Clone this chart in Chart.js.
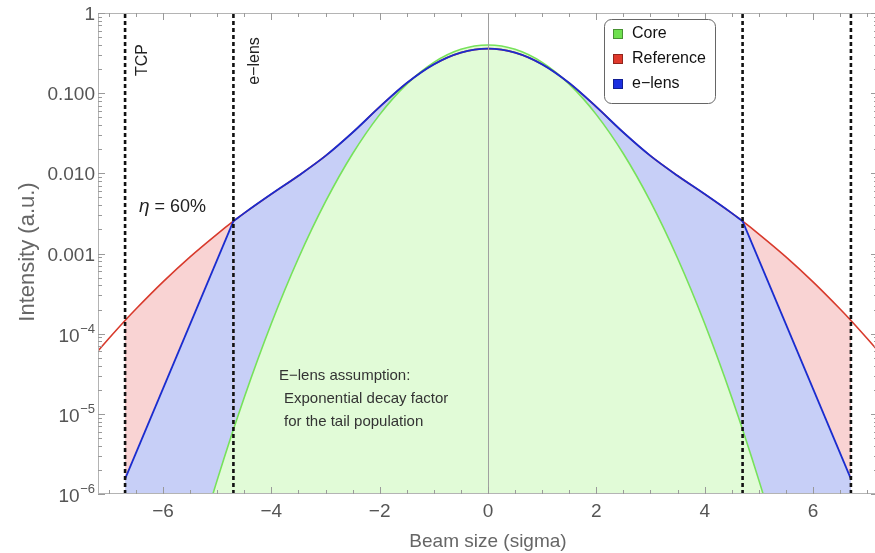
<!DOCTYPE html>
<html>
<head>
<meta charset="utf-8">
<script src="https://cdn.jsdelivr.net/npm/chart.js@4.4.1/dist/chart.umd.min.js"></script>
<style>
  html, body { margin: 0; padding: 0; background: #fff; width: 875px; height: 553px; overflow: hidden; }
  #wrap { width: 880px; height: 553px; }
</style>
</head>
<body>
<div id="wrap"><canvas id="chart" width="880" height="553"></canvas></div>
<script>
// reference distribution (red)
const refX = [-7.2, -7, -6.7, -6.5, -6, -5.5, -5, -4.7, -4.5, -4, -3.5, -3, -2.5, -2, -1.5, -1, -0.5, 0,
              0.5, 1, 1.5, 2, 2.5, 3, 3.5, 4, 4.5, 4.7, 5, 5.5, 6, 6.5, 6.7, 7, 7.2];
const refY = [6.1e-5, 8.7e-5, 1.46e-4, 2.03e-4, 4.43e-4, 9.09e-4, 1.75e-3, 2.53e-3, 3.19e-3, 5.51e-3, 9.33e-3, 0.0165, 0.0323, 0.0674, 0.1337, 0.2288, 0.3203, 0.3591,
              0.3203, 0.2288, 0.1337, 0.0674, 0.0323, 0.0165, 9.33e-3, 5.51e-3, 3.19e-3, 2.53e-3, 1.75e-3, 9.09e-4, 4.43e-4, 2.03e-4, 1.46e-4, 8.7e-5, 6.1e-5];

// core gaussian (green)
const coreX = [-5.5, -5, -4.5, -4, -3.5, -3, -2.5, -2, -1.5, -1, -0.5, 0, 0.5, 1, 1.5, 2, 2.5, 3, 3.5, 4, 4.5, 5, 5.5];
const coreY = [1.08e-7, 1.49e-6, 1.6e-5, 1.34e-4, 8.73e-4, 4.43e-3, 0.01753, 0.054, 0.1295, 0.242, 0.3521, 0.3989,
               0.3521, 0.242, 0.1295, 0.054, 0.01753, 4.43e-3, 8.73e-4, 1.34e-4, 1.6e-5, 1.49e-6, 1.08e-7];

// e-lens tails (blue), exponential decay between e-lens and TCP
const tailLX = [-6.7, -4.7];
const tailLY = [1.54e-6, 2.53e-3];
const tailRX = [4.7, 6.7];
const tailRY = [2.53e-3, 1.54e-6];

// vertical cuts: TCP and e-lens positions
const cutX = [-6.7, -4.7, 4.7, 6.7];
const cutY = [1e-6, 1];

const xTicks = [-6, -4, -2, 0, 2, 4, 6];
const yTicks = [1e-6, 1e-5, 1e-4, 1e-3, 1e-2, 1e-1, 1];
const yLabels = [['10', '\u22126'], ['10', '\u22125'], ['10', '\u22124'], ['0.001'], ['0.010'], ['0.100'], ['1']];

const legendNames = ['Core', 'Reference', 'e\u2212lens'];
const legendColors = ['#6fe04f', '#e0392c', '#1b2fe0'];

const pts = (xs, ys) => xs.map((x, i) => ({ x: x, y: ys[i] }));
const between = (xs, ys, lo, hi) => pts(xs, ys).filter(p => p.x >= lo - 1e-9 && p.x <= hi + 1e-9);

const FONT = 'Liberation Sans, Arial, sans-serif';

const datasets = [
  // fills (bottom layers)
  { data: between(refX, refY, -6.7, 6.7), borderWidth: 0, pointRadius: 0, fill: 'start',
    backgroundColor: '#f9d3d3', cubicInterpolationMode: 'monotone', order: 20 },
  { data: pts(tailLX, tailLY), borderWidth: 0, pointRadius: 0, fill: 'start', backgroundColor: '#c7cff7', tension: 0, order: 19 },
  { data: pts(tailRX, tailRY), borderWidth: 0, pointRadius: 0, fill: 'start', backgroundColor: '#c7cff7', tension: 0, order: 19 },
  { data: between(refX, refY, -4.7, 4.7), borderWidth: 0, pointRadius: 0, fill: 'start',
    backgroundColor: '#c7cff7', cubicInterpolationMode: 'monotone', order: 19 },
  { data: pts(coreX, coreY), borderWidth: 1.6, borderColor: '#77e25a', pointRadius: 0, fill: 'start',
    backgroundColor: '#e1fbd7', cubicInterpolationMode: 'monotone', order: 18 },
  // lines
  { data: pts(refX, refY), borderWidth: 1.6, borderColor: '#d83a2c', pointRadius: 0, fill: false,
    cubicInterpolationMode: 'monotone', order: 10 },
  { data: between(refX, refY, -4.7, 4.7), borderWidth: 1.8, borderColor: '#1a2ccf', pointRadius: 0, fill: false,
    cubicInterpolationMode: 'monotone', order: 9 },
  { data: pts(tailLX, tailLY), borderWidth: 1.8, borderColor: '#1a2ccf', pointRadius: 0, fill: false, tension: 0, order: 9 },
  { data: pts(tailRX, tailRY), borderWidth: 1.8, borderColor: '#1a2ccf', pointRadius: 0, fill: false, tension: 0, order: 9 }
];

cutX.forEach(cx => {
  datasets.push({ data: cutY.map(v => ({ x: cx, y: v })), borderWidth: 2.6, borderColor: '#111',
    borderDash: [4, 3], pointRadius: 0, fill: false, tension: 0, order: 1 });
});

const decorPlugin = {
  id: 'decor',
  afterDatasetsDraw(chart) {
    const { ctx, chartArea: a, scales: { x, y } } = chart;
    ctx.save();
    // vertical axis line at x = 0
    const zx = Math.round(x.getPixelForValue(0)) + 0.5;
    ctx.strokeStyle = '#a0a0a0';
    ctx.lineWidth = 1;
    ctx.beginPath();
    ctx.moveTo(zx, a.top); ctx.lineTo(zx, a.bottom);
    ctx.stroke();
    // frame
    ctx.strokeStyle = '#b4b4b4';
    ctx.strokeRect(a.left + 0.5, a.top + 0.5, a.right - a.left - 1, a.bottom - a.top - 1);
    // ticks
    ctx.strokeStyle = '#9a9a9a';
    ctx.beginPath();
    for (let v = -7; v <= 7.001; v += 0.5) {
      const px = Math.round(x.getPixelForValue(v)) + 0.5;
      const len = (Math.abs(v) % 2 === 0) ? 7 : 4;
      ctx.moveTo(px, a.bottom); ctx.lineTo(px, a.bottom - len);
      ctx.moveTo(px, a.top); ctx.lineTo(px, a.top + len);
    }
    for (let e = -6; e <= 0; e++) {
      for (let m = 1; m <= 9; m++) {
        const v = m * Math.pow(10, e);
        if (v > 1) break;
        const py = Math.round(y.getPixelForValue(v)) + 0.5;
        const len = m === 1 ? 7 : 4;
        ctx.moveTo(a.left, py); ctx.lineTo(a.left + len, py);
        ctx.moveTo(a.right, py); ctx.lineTo(a.right - len, py);
      }
    }
    ctx.stroke();
    ctx.restore();
  },
  afterDraw(chart) {
    const { ctx, chartArea: a, scales: { x, y } } = chart;
    ctx.save();
    // y tick labels
    ctx.fillStyle = '#555';
    ctx.textAlign = 'right';
    ctx.textBaseline = 'alphabetic';
    yTicks.forEach((v, i) => {
      const py = y.getPixelForValue(v);
      const lab = yLabels[i];
      const right = a.left - 3;
      if (lab.length === 1) {
        ctx.font = '19px ' + FONT;
        ctx.fillText(lab[0], right, py + 7);
      } else {
        ctx.font = '13px ' + FONT;
        const w = ctx.measureText(lab[1]).width;
        ctx.fillText(lab[1], right, py - 1);
        ctx.font = '19px ' + FONT;
        ctx.fillText(lab[0], right - w - 0.5, py + 8);
      }
    });
    // axis titles
    ctx.fillStyle = '#666';
    ctx.font = '19px ' + FONT;
    ctx.textAlign = 'center';
    ctx.textBaseline = 'middle';
    ctx.fillText('Beam size (sigma)', x.getPixelForValue(0), 542);
    ctx.save();
    ctx.font = '22px ' + FONT;
    ctx.translate(28, 252);
    ctx.rotate(-Math.PI / 2);
    ctx.fillText('Intensity (a.u.)', 0, 0);
    ctx.restore();

    // rotated labels for the cuts
    ctx.fillStyle = '#222';
    ctx.font = '16px ' + FONT;
    ctx.save();
    ctx.translate(143, 60); ctx.rotate(-Math.PI / 2);
    ctx.fillText('TCP', 0, 0);
    ctx.restore();
    ctx.save();
    ctx.translate(255, 61); ctx.rotate(-Math.PI / 2);
    ctx.fillText('e\u2212lens', 0, 0);
    ctx.restore();

    // eta label
    ctx.textAlign = 'left';
    ctx.font = 'italic 19px ' + FONT;
    ctx.fillText('\u03b7', 139, 207);
    const ew = ctx.measureText('\u03b7').width;
    ctx.font = '18px ' + FONT;
    ctx.fillText(' = 60%', 139 + ew, 207);

    // assumption text
    ctx.fillStyle = '#333';
    ctx.font = '15px ' + FONT;
    ctx.fillText('E\u2212lens assumption:', 279, 376);
    ctx.fillText('Exponential decay factor', 284, 399);
    ctx.fillText('for the tail population', 284, 422);

    // legend box
    const lx = 604, ly = 19, lw = 111, lh = 84;
    ctx.fillStyle = '#fff';
    ctx.strokeStyle = '#666';
    ctx.lineWidth = 1;
    ctx.beginPath();
    ctx.roundRect(lx + 0.5, ly + 0.5, lw, lh, 7);
    ctx.fill();
    ctx.stroke();
    legendNames.forEach((n, i) => {
      const cy = 34 + i * 25;
      ctx.fillStyle = legendColors[i];
      ctx.fillRect(613, cy - 5, 10, 10);
      ctx.strokeStyle = 'rgba(0,0,0,0.35)';
      ctx.strokeRect(613.5, cy - 4.5, 9, 9);
      ctx.fillStyle = '#111';
      ctx.font = '16px ' + FONT;
      ctx.textBaseline = 'middle';
      ctx.fillText(n, 632, cy);
    });
    ctx.restore();
  }
};

new Chart(document.getElementById('chart'), {
  type: 'line',
  data: { datasets: datasets },
  options: {
    responsive: false,
    animation: false,
    devicePixelRatio: 1,
    layout: { padding: { left: 0, right: 2, top: 13, bottom: 0 } },
    plugins: { legend: { display: false }, tooltip: { enabled: false } },
    scales: {
      x: {
        type: 'linear', min: -7.2, max: 7.2,
        afterBuildTicks: s => { s.ticks = xTicks.map(v => ({ value: v })); },
        afterFit: s => { s.height = 59; },
        ticks: {
          color: '#555', padding: 6, maxRotation: 0, autoSkip: false,
          font: { family: FONT, size: 19 },
          callback: v => (v < 0 ? '\u2212' + Math.abs(v) : String(v))
        },
        grid: { display: false, drawTicks: false },
        border: { display: false }
      },
      y: {
        type: 'logarithmic', min: 1e-6, max: 1,
        afterFit: s => { s.width = 98; },
        ticks: { display: false },
        grid: { display: false, drawTicks: false },
        border: { display: false }
      }
    }
  },
  plugins: [decorPlugin]
});
</script>
</body>
</html>
